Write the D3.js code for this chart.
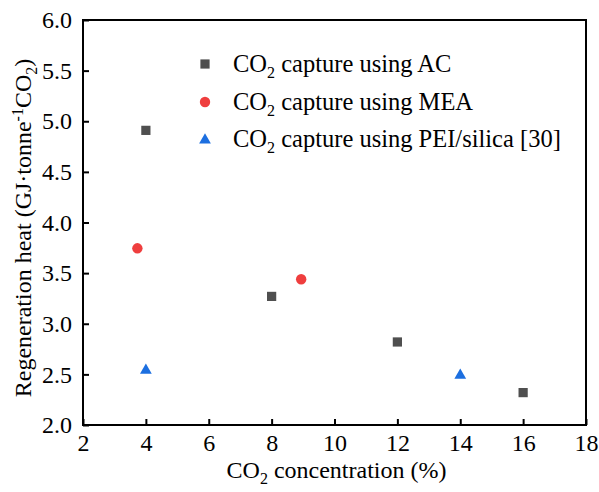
<!DOCTYPE html>
<html><head><meta charset="utf-8">
<script src="https://cdn.jsdelivr.net/npm/d3@7"></script>
<style>body{margin:0;background:#fff}svg{display:block}text{font-family:"Liberation Serif","Times New Roman",serif;fill:#000}</style>
</head><body><svg id="c" width="599" height="492"></svg>
<script>
const acX=[4,8,12,16], acY=[4.91,3.27,2.82,2.32];
const meaX=[3.73,8.94], meaY=[3.745,3.44];
const peiX=[4,14], peiY=[2.54,2.49];
const xTicks=[2,4,6,8,10,12,14,16,18];
const yTicks=[2.0,2.5,3.0,3.5,4.0,4.5,5.0,5.5,6.0];
const legendLabels=["capture using AC","capture using MEA","capture using PEI/silica [30]"];
const colors={ac:"#4f4f4f",mea:"#ef3e3e",pei:"#1c6fe0"};

const svg=d3.select("#c");
const m={l:83,r:586,t:20,b:425};
const x=d3.scaleLinear().domain([2,18]).range([m.l,m.r]);
const y=d3.scaleLinear().domain([2,6]).range([m.b,m.t]);

svg.append("rect").attr("x",m.l).attr("y",m.t).attr("width",m.r-m.l).attr("height",m.b-m.t)
  .attr("fill","none").attr("stroke","#000").attr("stroke-width",2);

const xa=svg.append("g").attr("transform",`translate(0,${m.b})`)
  .call(d3.axisBottom(x).tickValues(xTicks).tickSize(-6).tickPadding(9).tickFormat(d3.format("d")));
const ya=svg.append("g").attr("transform",`translate(${m.l},0)`)
  .call(d3.axisLeft(y).tickValues(yTicks).tickSize(-6).tickPadding(11).tickFormat(d3.format(".1f")));
[xa,ya].forEach(a=>{a.select(".domain").remove();a.selectAll("line").attr("stroke","#000").attr("stroke-width",2);
  a.attr("font-family","Liberation Serif").attr("font-size",24);
  a.selectAll("text").style("font-family","Liberation Serif").style("font-size","24px").attr("fill","#000");});

const xt=svg.append("text").attr("x",(m.l+m.r)/2+2).attr("y",478).attr("text-anchor","middle").style("font-size","24px");
xt.append("tspan").text("CO");
xt.append("tspan").attr("dy",6).style("font-size","16px").text("2");
xt.append("tspan").attr("dy",-6).text(" concentration (%)");

const yt=svg.append("text").attr("transform",`translate(31,${228}) rotate(-90)`).attr("text-anchor","middle").style("font-size","24px");
yt.append("tspan").text("Regeneration heat (GJ·tonne");
yt.append("tspan").attr("dy",-8).style("font-size","16px").text("-1");
yt.append("tspan").attr("dy",8).text("CO");
yt.append("tspan").attr("dy",6).style("font-size","16px").text("2");
yt.append("tspan").attr("dy",-6).text(")");

const sq=d3.symbol().type(d3.symbolSquare).size(85);
const ci=d3.symbol().type(d3.symbolCircle).size(85);
const tr=d3.symbol().type(d3.symbolTriangle).size(60);

function pts(xs,ys,sym,col){
  svg.append("g").selectAll("path").data(xs.map((d,i)=>[d,ys[i]])).join("path")
    .attr("d",sym).attr("fill",col).attr("transform",d=>`translate(${x(d[0])},${y(d[1])})`);
}
pts(acX,acY,sq,colors.ac);
pts(meaX,meaY,ci,colors.mea);
pts(peiX,peiY,tr,colors.pei);

const lg=[[sq,colors.ac,64],[ci,colors.mea,102],[tr,colors.pei,139]];
lg.forEach((l,i)=>{
  svg.append("path").attr("d",l[0]).attr("fill",l[1]).attr("transform",`translate(205,${l[2]+(i==2?1:0)})`);
  const t=svg.append("text").attr("x",233).attr("y",l[2]+8).style("font-size","24.5px");
  t.append("tspan").text("CO");
  t.append("tspan").attr("dy",6).style("font-size","16px").text("2");
  t.append("tspan").attr("dy",-6).text(" "+legendLabels[i]);
});
</script></body></html>
